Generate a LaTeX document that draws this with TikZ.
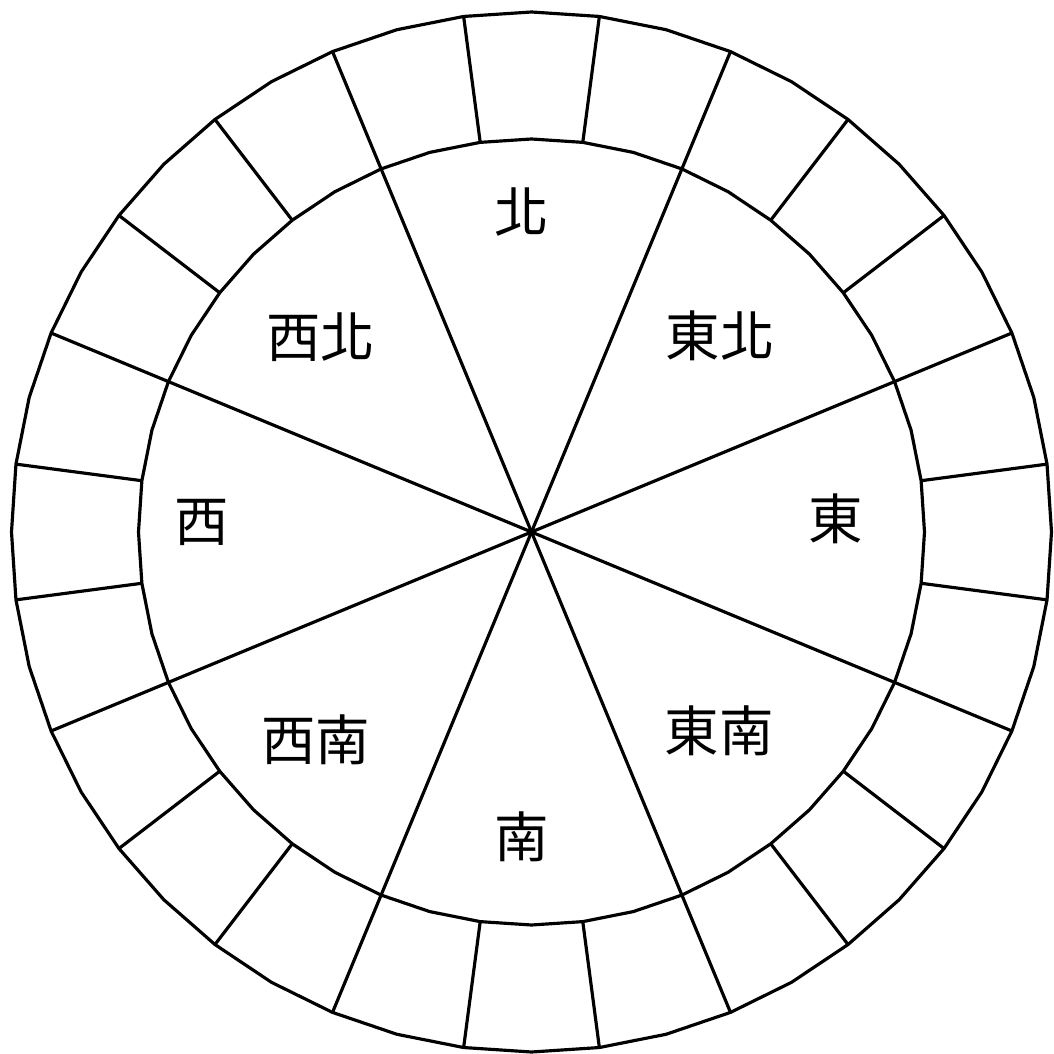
\documentclass[tikz,border=0pt]{standalone}
\usepackage{fontspec}
\newfontfamily\cjk{Noto Sans CJK TC}
\usetikzlibrary{calc}

\begin{document}
\begin{tikzpicture}[line width=0.9pt,
  dirlabel/.style={font=\cjk\fontsize{15.5}{16}\selectfont, inner sep=0pt}]
  \useasboundingbox (-5.315,-5.22) rectangle (5.215,5.32);
  \coordinate (c) at (0,0);
  % outer and inner rings, 48 sided
  \draw plot[samples=49, domain=0:360] ({5.2*cos(\x)},{5.2*sin(\x)}) -- cycle;
  \draw plot[samples=49, domain=0:360] ({3.93*cos(\x)},{3.93*sin(\x)}) -- cycle;
  % eight sectors through the centre
  \foreach \a in {22.5,67.5,...,337.5}
    \draw (c) -- (\a:3.93);
  % 24 cells of the outer ring
  \foreach \a in {7.5,22.5,...,352.5}
    \draw (\a:3.93) -- (\a:5.2);

  % direction names
  \foreach \nm/\x/\y/\t in {
    n/-0.095/3.20/北,    ne/1.885/1.96/東北,
    e/3.045/0.13/東,     se/1.875/-1.99/東南,
    s/-0.095/-3.05/南,   sw/-2.155/-2.08/西南,
    w/-3.295/0.10/西,    nw/-2.105/1.95/西北}
    \node[dirlabel] (\nm) at (\x,\y) {\t};
\end{tikzpicture}
\end{document}
